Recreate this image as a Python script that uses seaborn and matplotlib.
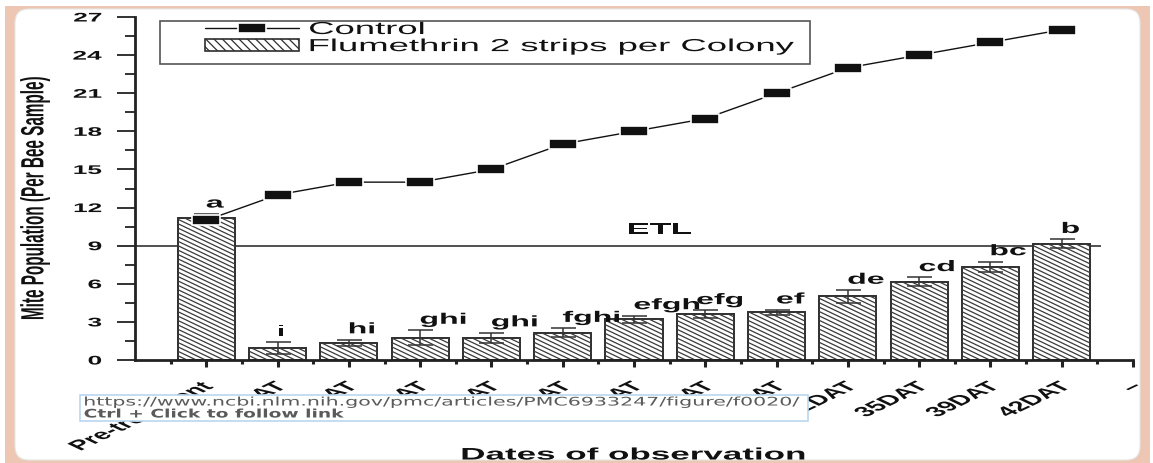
import numpy as np
import pandas as pd
import seaborn as sns
import matplotlib
matplotlib.use("Agg")
import matplotlib.pyplot as plt
from matplotlib.patheffects import AbstractPathEffect
from matplotlib.transforms import Affine2D
from matplotlib.path import Path
from matplotlib.lines import Line2D
from matplotlib.patches import Patch, Rectangle, FancyBboxPatch
from matplotlib.collections import LineCollection
from matplotlib.ticker import MultipleLocator, FixedLocator

# ---------------- data ----------------
dates = ["Pre-treatment", "3DAT", "7DAT", "10DAT", "14DAT", "17DAT", "21DAT",
         "24DAT", "28DAT", "32DAT", "35DAT", "39DAT", "42DAT"]
flumethrin = [11.2, 0.95, 1.35, 1.75, 1.75, 2.15, 3.2, 3.6, 3.75, 5.0, 6.15, 7.35, 9.15]
flumethrin_err = [0.3, 0.45, 0.25, 0.6, 0.4, 0.35, 0.3, 0.3, 0.2, 0.5, 0.35, 0.4, 0.35]
control = [11, 13, 14, 14, 15, 17, 18, 19, 21, 23, 24, 25, 26]
letters = ["a", "i", "hi", "ghi", "ghi", "fghi", "efgh", "efg", "ef", "de", "cd", "bc", "b"]
etl_value = 9
y_ticks = [0, 3, 6, 9, 12, 15, 18, 21, 24, 27]
legend_labels = ["Control", "Flumethrin 2 strips per Colony"]
tooltip_lines = ["https://www.ncbi.nlm.nih.gov/pmc/articles/PMC6933247/figure/f0020/",
                 "Ctrl + Click to follow link"]

df = pd.DataFrame({"date": dates, "flumethrin": flumethrin,
                   "err": flumethrin_err, "control": control})

# ---------------- style ----------------
sns.set_theme(style="white")
plt.rcParams["font.family"] = ["Liberation Sans", "DejaVu Sans"]
plt.rcParams["hatch.linewidth"] = 0.9
plt.rcParams["hatch.color"] = "#3a3a3a"

SX = 2.1  # horizontal stretch of the source screenshot
HATCH_COLOR = "#3a3a3a"


class HStretch(AbstractPathEffect):
    """Stretch text horizontally about an anchor (left/center/right)."""
    def __init__(self, sx, anchor="left"):
        super().__init__()
        self.sx = sx
        self.anchor = anchor

    def draw_path(self, renderer, gc, tpath, affine, rgbFace=None):
        bb = tpath.get_extents(affine)
        if self.anchor == "left":
            a = bb.x0
        elif self.anchor == "right":
            a = bb.x1
        else:
            a = 0.5 * (bb.x0 + bb.x1)
        new = affine + Affine2D().translate(-a, 0).scale(self.sx, 1).translate(a, 0)
        renderer.draw_path(gc, tpath, new, rgbFace)


def stretch(t, anchor="left", sx=SX):
    t.set_path_effects([HStretch(sx, anchor)])
    return t


W, H = 1153, 464
fig = plt.figure(figsize=(W / 100, H / 100), dpi=100)
fig.patch.set_facecolor("white")

# screenshot frame
fig.patches.append(Rectangle((5 / W, 0), (1150 - 5) / W, (464 - 7) / H,
                             transform=fig.transFigure, facecolor="#EDC7B4",
                             edgecolor="none", zorder=-20))
fig.patches.append(FancyBboxPatch((15 / W, 3 / H), (1140 - 15) / W, (454 - 3) / H,
                                  boxstyle="round,pad=0,rounding_size=0.012",
                                  mutation_aspect=W / H,
                                  transform=fig.transFigure, facecolor="white",
                                  edgecolor="#e6e6e6", lw=0.8, zorder=-19))

ax = fig.add_axes([135 / W, 1 - 361 / H, 998 / W, 343 / H])
ax.set_facecolor("none")

# bars
sns.barplot(data=df, x="date", y="flumethrin", order=dates, color="white",
            saturation=1, edgecolor="#2e2e2e", linewidth=1.4,
            width=0.8, errorbar=None, ax=ax, zorder=2)
bars = list(ax.patches)[:len(dates)]
ax.errorbar(x=np.arange(len(dates)), y=df["flumethrin"], yerr=df["err"], fmt="none",
            ecolor="#333333", elinewidth=1.1, capsize=9, capthick=1.1, zorder=3)

# control line
rect_marker = Path([(-1.3, -0.5), (1.3, -0.5), (1.3, 0.5), (-1.3, 0.5), (-1.3, -0.5)],
                   [Path.MOVETO, Path.LINETO, Path.LINETO, Path.LINETO, Path.CLOSEPOLY])
sns.pointplot(data=df, x="date", y="control", order=dates, color="#111111",
              errorbar=None, marker=rect_marker, markersize=20, linewidth=1.0,
              markeredgecolor="white", markeredgewidth=1.2, ax=ax, zorder=4)

# ETL line
ax.hlines(etl_value, -1, 12.55, color="#333333", lw=1.2, zorder=1.5)
stretch(ax.text(6.36, etl_value + 0.9, "ETL", ha="center", va="baseline",
                fontsize=12, fontweight="bold", color="#111"), "center")

# significance letters
for i, (v, e, lab) in enumerate(zip(flumethrin, flumethrin_err, letters)):
    xx = i - 0.12 if lab == "efg" else i
    stretch(ax.text(xx, v + e + 0.5, lab, ha="left", va="baseline", fontsize=11,
                    fontweight="bold", color="#111"), "left")

# axes
ax.set_xlim(-1, 13)
ax.set_ylim(0, 27)
ax.set_xticks(np.arange(len(dates) + 1))
ax.set_xticklabels(dates + ["\u2013"])
ax.xaxis.set_minor_locator(FixedLocator(np.arange(-0.5, 13, 1.0)))
ax.set_yticks(y_ticks)
ax.yaxis.set_minor_locator(MultipleLocator(1.5))
ax.set_xlabel("")
ax.set_ylabel("")
for s in ["top", "right"]:
    ax.spines[s].set_visible(False)
for s in ["left", "bottom"]:
    ax.spines[s].set_linewidth(2.0)
    ax.spines[s].set_color("#222222")
ax.tick_params(axis="y", which="major", direction="out", length=13, width=1.3,
               color="#222", pad=11, labelsize=9, left=True)
ax.tick_params(axis="y", which="minor", direction="out", length=7, width=1.3,
               color="#222", left=True)
ax.tick_params(axis="x", which="major", direction="out", length=5, width=2.2,
               color="#222", pad=9, labelsize=10, bottom=True)
ax.tick_params(axis="x", which="minor", direction="out", length=3, width=2.2,
               color="#222", bottom=True)
for lbl in ax.get_yticklabels():
    lbl.set_fontweight("bold")
    lbl.set_color("#111")
    stretch(lbl, "right")
for lbl in ax.get_xticklabels():
    lbl.set_fontweight("bold")
    lbl.set_color("#111")
    lbl.set_rotation(45)
    lbl.set_ha("right")
    lbl.set_va("top")
    lbl.set_rotation_mode("anchor")
    stretch(lbl, "right")

# stretched diagonal hatching inside each bar (shallow "\" lines, as in the screenshot)
fig.canvas.draw()
inv = ax.transData.inverted()
k = 1.0 / SX          # pixel slope of the stretched 45-degree hatch
spacing = 4.4         # vertical pixel distance between hatch lines
for bar in bars:
    bb = bar.get_window_extent()
    w = bb.x1 - bb.x0
    cs = np.arange(bb.y0, bb.y1 + k * w + spacing, spacing)
    segs = [inv.transform([(bb.x0, c), (bb.x1, c - k * w)]) for c in cs]
    lc = LineCollection(segs, colors=HATCH_COLOR, linewidths=0.9, zorder=2.1)
    ax.add_collection(lc, autolim=False)
    lc.set_clip_path(bar)

# axis titles
stretch(fig.text(35 / W, 1 - 199 / H, "Mite Population (Per Bee Sample)", rotation=90,
                 ha="center", va="center", fontsize=11, fontweight="bold",
                 color="#111"), "center")
stretch(fig.text(633 / W, 1 - 456 / H, "Dates of observation", ha="center",
                 va="center", fontsize=12, fontweight="bold", color="#111"), "center")

# legend
handles = [Line2D([], [], color="#111", lw=1.0, marker=rect_marker, markersize=20,
                  markerfacecolor="#111", markeredgecolor="white", markeredgewidth=1.2),
           Patch(facecolor="white", edgecolor="#2e2e2e", hatch="\\\\\\\\", lw=1.2)]
leg = ax.legend(handles, legend_labels, loc="upper left", frameon=False,
                bbox_to_anchor=(205 / W, 1 - 23 / H), bbox_transform=fig.transFigure,
                borderpad=0, borderaxespad=0, fontsize=12.5, handlelength=5.4,
                handleheight=0.65, handletextpad=0.6, labelspacing=0.12)
for t in leg.get_texts():
    t.set_color("#111")
    stretch(t, "left")
fig.patches.append(Rectangle((160 / W, 1 - 65 / H), (810 - 160) / W, (65 - 22) / H,
                             transform=fig.transFigure, facecolor="none",
                             edgecolor="#555", lw=1.2, zorder=5))

# tooltip overlay
fig.patches.append(Rectangle((80 / W, 1 - 422 / H), (808 - 80) / W, (422 - 396) / H,
                             transform=fig.transFigure, facecolor="white",
                             edgecolor="#B9D7F0", lw=1.2, zorder=10))
renderer = fig.canvas.get_renderer()
tip_targets = [716, 259]
tip_y = [403, 415]
for txt, target, yy, wt in zip(tooltip_lines, tip_targets, tip_y, ["normal", "bold"]):
    t = fig.text(84 / W, 1 - yy / H, txt, ha="left", va="center", fontsize=8.5,
                 fontweight=wt, color="#5a5a5a", family=["DejaVu Sans"], zorder=11)
    w = t.get_window_extent(renderer).width
    stretch(t, "left", target / w)

fig.savefig("out.png", dpi=100)
